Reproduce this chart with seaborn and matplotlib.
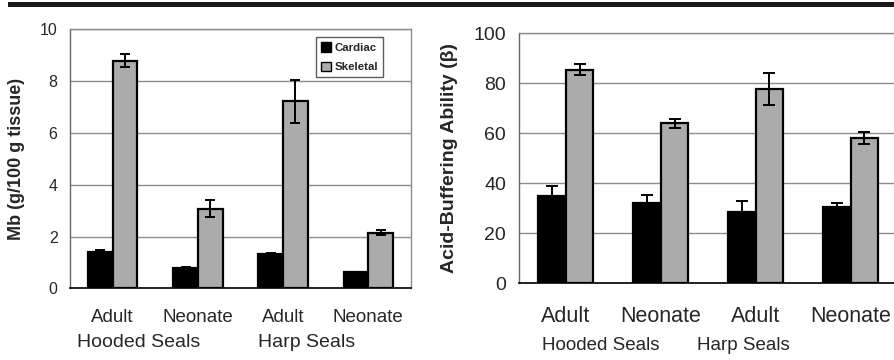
import matplotlib
matplotlib.use("Agg")
import matplotlib.pyplot as plt
from matplotlib.patches import Patch, Rectangle
import seaborn as sns
import pandas as pd

groups = ["Hooded Adult", "Hooded Neonate", "Harp Adult", "Harp Neonate"]
tick_labels = ["Adult", "Neonate", "Adult", "Neonate"]
tissues = ["Cardiac", "Skeletal"]

mb_cardiac = [1.42, 0.78, 1.32, 0.62]
mb_cardiac_err = [0.06, 0.03, 0.05, 0.02]
mb_skeletal = [8.78, 3.08, 7.22, 2.15]
mb_skeletal_err = [0.25, 0.33, 0.83, 0.09]

ab_cardiac = [35.0, 32.0, 28.5, 30.5]
ab_cardiac_err = [4.0, 3.5, 4.5, 1.5]
ab_skeletal = [85.5, 64.0, 77.8, 58.2]
ab_skeletal_err = [2.2, 1.8, 6.3, 2.4]

sns.set_style("white")
plt.rcParams["font.family"] = ["Liberation Sans", "DejaVu Sans"]

palette = {"Cardiac": "black", "Skeletal": "#ababab"}
GRID = "#8c8c8c"


def make_df(cardiac, skeletal):
    return pd.DataFrame({
        "group": groups * 2,
        "tissue": ["Cardiac"] * 4 + ["Skeletal"] * 4,
        "value": cardiac + skeletal,
    })


def draw_panel(ax, cardiac, c_err, skeletal, s_err, ymax, tick_fs, xfs, xpad, capsize):
    df = make_df(cardiac, skeletal)
    sns.barplot(data=df, x="group", y="value", hue="tissue", order=groups,
                hue_order=tissues, palette=palette, width=0.58,
                edgecolor="black", linewidth=1.6, errorbar=None,
                legend=False, ax=ax, zorder=3)
    # error bars on top of each bar, matched by bar position
    bars = sorted(ax.patches, key=lambda p: p.get_x())
    errs = [e for pair in zip(c_err, s_err) for e in pair]
    xs = [b.get_x() + b.get_width() / 2 for b in bars]
    hs = [b.get_height() for b in bars]
    ax.errorbar(xs, hs, yerr=errs, fmt="none", ecolor="black",
                elinewidth=1.4, capsize=capsize, capthick=1.4, zorder=4)

    ax.set_xlim(-0.5, 3.5)
    ax.set_ylim(0, ymax)
    ax.set_yticks([ymax * i / 5 for i in range(6)])
    ax.yaxis.grid(True, color=GRID, lw=1)
    ax.set_axisbelow(True)
    ax.set_xlabel("")

    ax.set_xticks(range(4))
    ax.set_xticklabels(tick_labels, fontsize=xfs)
    ax.set_xticks([-0.5, 0.5, 1.5, 2.5, 3.5], minor=True)
    ax.tick_params(axis="x", which="major", length=0, pad=xpad)
    ax.tick_params(axis="x", which="minor", length=5, width=1, color="black",
                   direction="out")
    ax.tick_params(axis="y", length=5, width=1, color="#555555",
                   direction="out", labelsize=tick_fs, pad=4)

    for s in ["top", "right"]:
        ax.spines[s].set_color(GRID)
        ax.spines[s].set_linewidth(1)
    ax.spines["left"].set_color("#666666")
    ax.spines["left"].set_linewidth(1)
    ax.spines["bottom"].set_color("black")
    ax.spines["bottom"].set_linewidth(1.2)


fig = plt.figure(figsize=(8.94, 3.6), dpi=100)
ax1 = fig.add_axes([0.0783, 0.199, 0.3814, 0.720])
ax2 = fig.add_axes([0.580, 0.213, 0.4245, 0.694])

draw_panel(ax1, mb_cardiac, mb_cardiac_err, mb_skeletal, mb_skeletal_err,
           10, 11.5, 13.5, 15, 3.3)
draw_panel(ax2, ab_cardiac, ab_cardiac_err, ab_skeletal, ab_skeletal_err,
           100, 14, 15.5, 16, 4.3)

ax1.set_ylabel("Mb (g/100 g tissue)", fontsize=13, fontweight="bold")
ax1.yaxis.set_label_coords(-0.132, 0.5)
ax2.set_ylabel("Acid-Buffering Ability (\u03b2)", fontsize=14, fontweight="bold")
ax2.yaxis.set_label_coords(-0.159, 0.5)

# species labels under the age labels
t1 = ax1.get_xaxis_transform()
ax1.text(-0.42, -0.175, "Hooded Seals", transform=t1, fontsize=14, va="top", ha="left")
ax1.text(1.70, -0.175, "Harp Seals", transform=t1, fontsize=14, va="top", ha="left")
t2 = ax2.get_xaxis_transform()
ax2.text(-0.25, -0.215, "Hooded Seals", transform=t2, fontsize=13.5, va="top", ha="left")
ax2.text(1.38, -0.215, "Harp Seals", transform=t2, fontsize=13.5, va="top", ha="left")

handles = [Patch(facecolor=palette[t], edgecolor="black", lw=1) for t in tissues]
leg = ax1.legend(handles, tissues, loc="upper right", bbox_to_anchor=(0.918, 0.969),
                 borderaxespad=0, fancybox=False, frameon=True, handlelength=0.9,
                 handleheight=0.9, handletextpad=0.25, labelspacing=0.75,
                 borderpad=0.45, prop={"weight": "bold", "size": 8.2})
leg.get_frame().set_edgecolor("#333333")
leg.get_frame().set_linewidth(1)
leg.set_zorder(5)

# heavy rule across the top of the page
fig.add_artist(Rectangle((0.009, 0.9814), 0.991, 0.014, transform=fig.transFigure,
                         color="#1a1a1a", lw=0))

fig.savefig("out.png", dpi=100)
